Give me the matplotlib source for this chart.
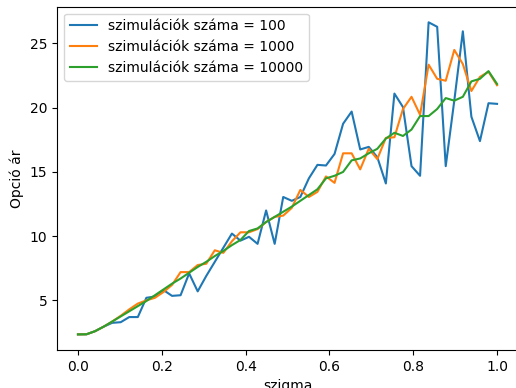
import numpy as np
import matplotlib
matplotlib.use("Agg")
import matplotlib.pyplot as plt

# szigma értékek (50 pont 0 és 1 között)
sigmas = np.linspace(0, 1, 50)

ar_100 = [2.35, 2.36, 2.6, 2.95, 3.25, 3.3, 3.7, 3.7, 5.2, 5.3,
          5.8, 5.35, 5.4, 7.1, 5.7, 6.9, 8.0, 9.1, 10.2, 9.65,
          9.95, 9.4, 12.0, 9.4, 13.05, 12.75, 13.05, 14.5, 15.55, 15.5,
          16.4, 18.75, 19.7, 16.75, 16.95, 16.15, 14.1, 21.1, 20.05, 15.45,
          14.7, 26.65, 26.3, 15.45, 20.55, 25.95, 19.3, 17.4, 20.35, 20.3]

ar_1000 = [2.35, 2.36, 2.6, 2.95, 3.35, 3.8, 4.3, 4.75, 5.0, 5.2,
           5.65, 6.2, 7.2, 7.2, 7.75, 7.85, 8.9, 8.7, 9.6, 10.3,
           10.3, 10.55, 11.1, 11.5, 11.6, 12.2, 13.6, 13.05, 13.45, 14.65,
           14.15, 16.45, 16.45, 15.2, 16.8, 16.0, 17.65, 17.7, 19.9, 20.85,
           19.45, 23.35, 22.25, 22.1, 24.5, 23.4, 21.3, 22.4, 22.8, 21.75]

ar_10000 = [2.35, 2.36, 2.6, 2.95, 3.35, 3.75, 4.15, 4.55, 4.95, 5.4,
            5.85, 6.3, 6.7, 7.15, 7.6, 8.0, 8.45, 8.85, 9.3, 9.7,
            10.4, 10.6, 11.1, 11.5, 11.9, 12.3, 12.75, 13.2, 13.65, 14.5,
            14.7, 15.0, 15.9, 16.05, 16.45, 16.8, 17.6, 18.05, 17.8, 18.3,
            19.35, 19.35, 19.9, 20.75, 20.55, 20.85, 22.05, 22.25, 22.85, 21.85]

fig = plt.figure(figsize=(5.16, 3.88), dpi=100)
# a jobb oldali keret a kép szélén túl esik
ax = fig.add_axes([57 / 516, 38 / 388, 461 / 516, 343.3 / 388])

ax.plot(sigmas, ar_100, label="szimulációk száma = 100")
ax.plot(sigmas, ar_1000, label="szimulációk száma = 1000")
ax.plot(sigmas, ar_10000, label="szimulációk száma = 10000")

ax.spines["right"].set_visible(False)
ax.set_xlabel("szigma")
ax.set_ylabel("Opció ár")
ax.legend(loc="upper left")

fig.savefig("out.png", dpi=100)
